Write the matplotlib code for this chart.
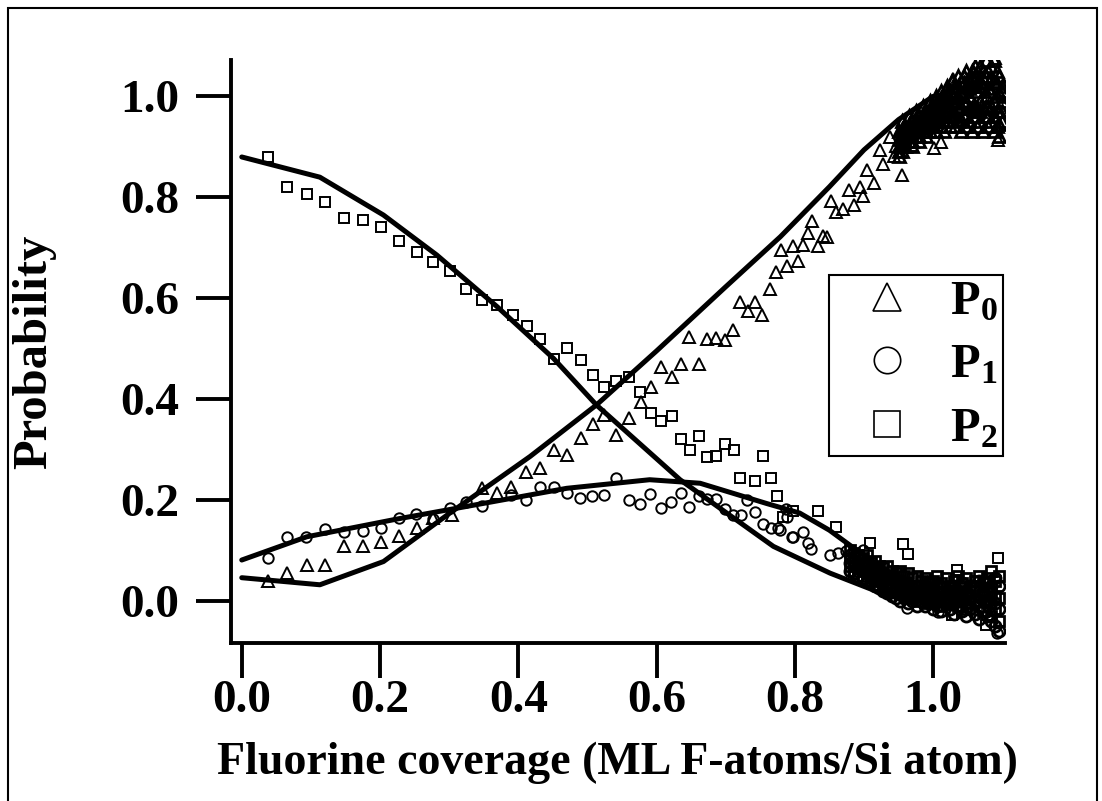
import matplotlib
matplotlib.use("Agg")
import matplotlib.pyplot as plt
from matplotlib.lines import Line2D
from matplotlib.patches import Rectangle
from matplotlib.ticker import FormatStrFormatter

plt.rcParams['font.family'] = ['Liberation Serif', 'DejaVu Serif']
plt.rcParams['font.weight'] = 'bold'
plt.rcParams['mathtext.fontset'] = 'custom'
plt.rcParams['mathtext.rm'] = 'Liberation Serif:bold'
plt.rcParams['mathtext.bf'] = 'Liberation Serif:bold'
plt.rcParams['mathtext.it'] = 'Liberation Serif:bold'

# model curves
fit_x = [0.0, 0.113, 0.205, 0.282, 0.369, 0.451, 0.513, 0.634, 0.769, 0.851, 0.937, 1.0]
fit_p2 = [0.879, 0.839, 0.764, 0.685, 0.583, 0.48, 0.388, 0.240, 0.108, 0.055, 0.009, 0.0]
fit0_x = [0.0, 0.113, 0.205, 0.301, 0.417, 0.513, 0.6, 0.7, 0.779, 0.85, 0.9, 0.95, 1.0]
fit_p0 = [0.046, 0.032, 0.078, 0.174, 0.286, 0.388, 0.495, 0.622, 0.721, 0.82, 0.893, 0.953, 0.999]
fit1_x = [0.0, 0.094, 0.224, 0.349, 0.47, 0.59, 0.663, 0.759, 0.807, 0.85, 0.9, 0.95, 1.0]
fit_p1 = [0.081, 0.127, 0.162, 0.193, 0.223, 0.240, 0.233, 0.193, 0.174, 0.14, 0.09, 0.045, 0.0]

# P0 (triangles)
p0_x = [0.038, 0.066, 0.094, 0.121, 0.148, 0.175, 0.201, 0.228, 0.253, 0.277, 0.304, 0.347,
        0.369, 0.390, 0.411, 0.432, 0.451, 0.471, 0.490, 0.508, 0.524, 0.542, 0.560, 0.577,
        0.592, 0.606, 0.622, 0.635, 0.647, 0.661, 0.673, 0.686, 0.699, 0.711, 0.721, 0.732,
        0.742, 0.753, 0.764, 0.773, 0.780, 0.788, 0.798, 0.804, 0.812, 0.819, 0.825, 0.834,
        0.840, 0.847, 0.853, 0.860, 0.870, 0.879, 0.885, 0.894, 0.899, 0.905, 0.915, 0.923,
        0.928, 0.937, 0.944, 0.947, 0.955, 0.959, 0.969, 0.981, 1.001, 1.012, 1.029, 1.059,
        1.089, 1.094]
p0_y = [0.040, 0.056, 0.071, 0.071, 0.108, 0.109, 0.116, 0.129, 0.144, 0.164, 0.170, 0.223,
        0.213, 0.226, 0.256, 0.263, 0.299, 0.289, 0.322, 0.350, 0.368, 0.329, 0.362, 0.393,
        0.423, 0.464, 0.443, 0.469, 0.522, 0.469, 0.518, 0.520, 0.517, 0.537, 0.591, 0.575,
        0.591, 0.566, 0.617, 0.652, 0.695, 0.664, 0.702, 0.674, 0.705, 0.729, 0.753, 0.702,
        0.723, 0.720, 0.791, 0.771, 0.776, 0.814, 0.784, 0.820, 0.801, 0.853, 0.827, 0.893,
        0.866, 0.918, 0.880, 0.901, 0.844, 0.933, 0.903, 0.972, 0.896, 0.909, 1.033, 1.048,
        1.075, 0.913]
# dense cluster of P0 beyond full coverage
p0d_x = [0.950, 0.955, 0.960, 0.965, 0.970, 0.975, 0.980, 0.985, 0.990, 0.995, 1.000, 1.004,
         1.008, 1.012, 1.016, 1.020, 1.024, 1.028, 1.032, 1.036, 1.040, 1.044, 1.048, 1.052,
         1.056, 1.060, 1.064, 1.068, 1.072, 1.076, 1.080, 1.084, 1.088, 1.092, 1.096, 1.100]
p0d_hi = [0.93, 0.95, 0.94, 0.96, 0.95, 0.97, 0.96, 0.98, 0.97, 0.99, 0.98, 1.00,
          0.99, 1.01, 1.00, 1.02, 1.01, 1.03, 1.02, 1.04, 1.03, 1.04, 1.05, 1.03,
          1.05, 1.06, 1.04, 1.06, 1.05, 1.07, 1.05, 1.06, 1.07, 1.05, 1.04, 1.02]
p0d_a = [0.915, 0.935, 0.925, 0.945, 0.935, 0.955, 0.945, 0.965, 0.955, 0.975, 0.965, 0.985,
         0.975, 0.995, 0.985, 1.005, 0.995, 1.0, 1.005, 1.02, 1.005, 1.025, 1.02, 1.015,
         1.035, 1.02, 1.025, 1.03, 1.035, 1.04, 1.015, 1.035, 1.03, 1.025, 1.005, 1.01]
p0d_mid = [0.90, 0.92, 0.91, 0.93, 0.92, 0.94, 0.93, 0.95, 0.94, 0.96, 0.95, 0.97,
           0.96, 0.98, 0.97, 0.99, 0.98, 0.97, 0.99, 1.00, 0.98, 1.01, 0.99, 1.00,
           1.02, 0.98, 1.01, 0.99, 1.02, 1.00, 0.98, 1.01, 0.99, 1.00, 0.97, 0.99]
p0d_b = [0.89, 0.905, 0.90, 0.92, 0.91, 0.93, 0.92, 0.94, 0.93, 0.945, 0.945, 0.95,
         0.955, 0.96, 0.95, 0.97, 0.96, 0.965, 0.965, 0.975, 0.955, 0.985, 0.965, 0.975,
         0.975, 0.97, 0.975, 0.97, 0.975, 0.98, 0.96, 0.98, 0.96, 0.97, 0.945, 0.97]
p0d_lo = [0.88, 0.89, 0.90, 0.91, 0.90, 0.92, 0.91, 0.93, 0.92, 0.93, 0.94, 0.93,
          0.95, 0.94, 0.93, 0.95, 0.94, 0.96, 0.94, 0.95, 0.93, 0.96, 0.94, 0.95,
          0.93, 0.96, 0.94, 0.95, 0.93, 0.96, 0.94, 0.95, 0.93, 0.94, 0.92, 0.95]

# P1 (circles)
p1_x = [0.038, 0.066, 0.093, 0.121, 0.148, 0.176, 0.201, 0.228, 0.252, 0.277, 0.301, 0.324,
        0.347, 0.390, 0.411, 0.432, 0.451, 0.471, 0.489, 0.507, 0.524, 0.542, 0.560, 0.576,
        0.591, 0.606, 0.621, 0.635, 0.647, 0.662, 0.673, 0.686, 0.699, 0.711, 0.722, 0.731,
        0.742, 0.754, 0.765, 0.776, 0.779, 0.787, 0.788, 0.796, 0.798, 0.812, 0.819, 0.824,
        0.851, 0.863, 0.874, 0.899, 0.923, 0.947, 0.962, 1.007, 1.092]
p1_y = [0.085, 0.126, 0.127, 0.143, 0.137, 0.139, 0.145, 0.164, 0.172, 0.162, 0.184, 0.195,
        0.187, 0.210, 0.200, 0.225, 0.226, 0.214, 0.203, 0.207, 0.210, 0.243, 0.199, 0.192,
        0.211, 0.184, 0.195, 0.214, 0.185, 0.207, 0.201, 0.201, 0.182, 0.170, 0.170, 0.200,
        0.177, 0.152, 0.144, 0.144, 0.141, 0.182, 0.167, 0.126, 0.127, 0.137, 0.115, 0.102,
        0.091, 0.094, 0.098, 0.101, 0.061, 0.025, -0.013, -0.021, -0.064]

# P2 (squares)
p2_x = [0.038, 0.066, 0.094, 0.121, 0.148, 0.176, 0.202, 0.227, 0.253, 0.277, 0.301, 0.325,
        0.347, 0.369, 0.392, 0.413, 0.432, 0.451, 0.471, 0.490, 0.508, 0.524, 0.542, 0.560,
        0.576, 0.592, 0.606, 0.622, 0.635, 0.648, 0.661, 0.673, 0.686, 0.699, 0.712, 0.721,
        0.742, 0.754, 0.765, 0.774, 0.783, 0.798, 0.834, 0.860, 0.909, 0.923, 0.957, 0.964,
        1.028, 1.034, 1.077, 1.094]
p2_y = [0.879, 0.819, 0.805, 0.789, 0.758, 0.755, 0.741, 0.712, 0.690, 0.671, 0.654, 0.618,
        0.595, 0.586, 0.566, 0.545, 0.518, 0.479, 0.500, 0.477, 0.447, 0.424, 0.436, 0.443,
        0.414, 0.373, 0.356, 0.366, 0.321, 0.299, 0.327, 0.284, 0.286, 0.311, 0.298, 0.243,
        0.238, 0.287, 0.243, 0.208, 0.167, 0.179, 0.178, 0.147, 0.115, 0.042, 0.113, 0.093,
        -0.028, 0.061, -0.048, 0.085]

# dense cluster of P1 / P2 near zero
d_x = [0.880, 0.886, 0.892, 0.898, 0.904, 0.910, 0.916, 0.922, 0.928, 0.934, 0.940, 0.946,
       0.952, 0.958, 0.964, 0.970, 0.976, 0.982, 0.988, 0.994, 1.000, 1.006, 1.012, 1.018,
       1.024, 1.030, 1.036, 1.042, 1.048, 1.054, 1.060, 1.066, 1.072, 1.078, 1.084, 1.090,
       1.096]
p1d_hi = [0.09, 0.08, 0.085, 0.07, 0.075, 0.06, 0.065, 0.05, 0.055, 0.045, 0.05, 0.035,
          0.04, 0.03, 0.035, 0.025, 0.03, 0.02, 0.03, 0.015, 0.025, 0.02, 0.03, 0.015,
          0.025, 0.03, 0.02, 0.035, 0.02, 0.03, 0.025, 0.04, 0.02, 0.035, 0.03, 0.045, 0.03]
p1d_mid = [0.075, 0.07, 0.065, 0.06, 0.055, 0.05, 0.045, 0.04, 0.035, 0.03, 0.03, 0.02,
           0.02, 0.015, 0.015, 0.01, 0.01, 0.01, 0.01, 0.005, 0.005, 0.005, 0.005, 0.005,
           0.005, 0.0, 0.005, 0.005, -0.005, 0.005, 0.0, 0.0, 0.0, 0.0, -0.005, -0.005, -0.015]
p1d_lo = [0.06, 0.055, 0.05, 0.045, 0.04, 0.04, 0.03, 0.025, 0.02, 0.015, 0.01, 0.005,
          0.0, 0.005, -0.005, 0.0, -0.01, 0.0, -0.01, -0.005, -0.015, -0.01, -0.02, -0.005,
          -0.015, -0.025, -0.01, -0.02, -0.03, -0.015, -0.025, -0.035, -0.02, -0.03, -0.04,
          -0.05, -0.06]
p2d_hi = [0.10, 0.095, 0.09, 0.085, 0.09, 0.075, 0.08, 0.07, 0.065, 0.07, 0.06, 0.055,
          0.06, 0.05, 0.055, 0.045, 0.05, 0.04, 0.045, 0.035, 0.04, 0.05, 0.035, 0.045,
          0.03, 0.04, 0.05, 0.035, 0.045, 0.03, 0.04, 0.05, 0.035, 0.045, 0.06, 0.04, 0.05]
p2d_mid = [0.085, 0.08, 0.075, 0.07, 0.07, 0.06, 0.06, 0.055, 0.05, 0.05, 0.045, 0.04,
           0.035, 0.035, 0.03, 0.025, 0.03, 0.02, 0.025, 0.015, 0.02, 0.025, 0.015, 0.02,
           0.015, 0.02, 0.02, 0.015, 0.015, 0.01, 0.02, 0.02, 0.01, 0.02, 0.015, 0.01, 0.005]
p2d_lo = [0.07, 0.06, 0.065, 0.05, 0.055, 0.045, 0.04, 0.045, 0.03, 0.035, 0.025, 0.02,
          0.015, 0.02, 0.01, 0.005, 0.01, 0.0, 0.005, -0.005, 0.0, 0.005, -0.01, 0.0,
          -0.005, 0.005, -0.01, 0.0, -0.015, -0.005, 0.0, -0.01, -0.02, -0.005, -0.03,
          -0.015, -0.04]

fig = plt.figure(figsize=(11.02, 8.01), dpi=100)
ax = fig.add_axes([0.2094, 0.1973, 0.7026, 0.7278])

# hollow markers, as in the original
mk = dict(linestyle='none', markerfacecolor='none', markeredgecolor='black',
          markeredgewidth=1.4)
mk_dense = dict(mk, markeredgewidth=2.0)

for yy in (p0d_lo, p0d_b, p0d_mid, p0d_a, p0d_hi):
    ax.plot(p0d_x, yy, marker='^', markersize=8.5, **mk_dense)
ax.plot(p0_x, p0_y, marker='^', markersize=8, **mk)
for yy in (p2d_lo, p2d_mid, p2d_hi):
    ax.plot(d_x, yy, marker='s', markersize=7.5, **mk_dense)
for yy in (p1d_lo, p1d_mid, p1d_hi):
    ax.plot(d_x, yy, marker='o', markersize=8, **mk_dense)
ax.plot(p1_x, p1_y, marker='o', markersize=7.5, **mk)
ax.plot(p2_x, p2_y, marker='s', markersize=7, **mk)

ax.plot(fit_x, fit_p2, color='black', lw=3.6, solid_capstyle='round')
ax.plot(fit0_x, fit_p0, color='black', lw=3.6, solid_capstyle='round')
ax.plot(fit1_x, fit_p1, color='black', lw=3.6, solid_capstyle='round')

ax.set_xlim(-0.0159, 1.104)
ax.set_ylim(-0.0832, 1.071)
ax.set_xticks([0.0, 0.2, 0.4, 0.6, 0.8, 1.0])
ax.set_yticks([0.0, 0.2, 0.4, 0.6, 0.8, 1.0])
ax.xaxis.set_major_formatter(FormatStrFormatter('%.1f'))
ax.yaxis.set_major_formatter(FormatStrFormatter('%.1f'))

for s in ('top', 'right'):
    ax.spines[s].set_visible(False)
for s in ('left', 'bottom'):
    ax.spines[s].set_linewidth(2.8)
ax.tick_params(direction='out', length=25, width=2.8, labelsize=34)
ax.tick_params(axis='x', pad=2)
ax.tick_params(axis='y', pad=12)

ax.set_xlabel('Fluorine coverage (ML F-atoms/Si atom)', fontsize=33, fontweight='bold',
              labelpad=14)
ax.set_ylabel('Probability', fontsize=35, fontweight='bold', labelpad=46)

handles = [
    Line2D([], [], marker='^', markersize=20, **dict(mk, markeredgewidth=1.2)),
    Line2D([], [], marker='o', markersize=19, **dict(mk, markeredgewidth=1.2)),
    Line2D([], [], marker='s', markersize=19, **dict(mk, markeredgewidth=1.2)),
]
labels = [r'$\mathbf{P_0}$', r'$\mathbf{P_1}$', r'$\mathbf{P_2}$']
leg = ax.legend(handles, labels, loc='upper right', bbox_to_anchor=(0.997, 0.631),
                borderaxespad=0, fontsize=35, frameon=True, fancybox=False,
                edgecolor='black', handlelength=2.2, handletextpad=0.2,
                labelspacing=0.4, borderpad=0.1)
leg.get_frame().set_linewidth(1.5)
leg.get_frame().set_facecolor('white')
leg.get_frame().set_alpha(1)

# outer frame around the whole figure
fig.patches.append(Rectangle((8 / 1102, -0.02), 1089 / 1102, 1.02 - 8 / 801,
                             transform=fig.transFigure, fill=False,
                             edgecolor='black', linewidth=1.5))

fig.savefig('out.png', dpi=100)
